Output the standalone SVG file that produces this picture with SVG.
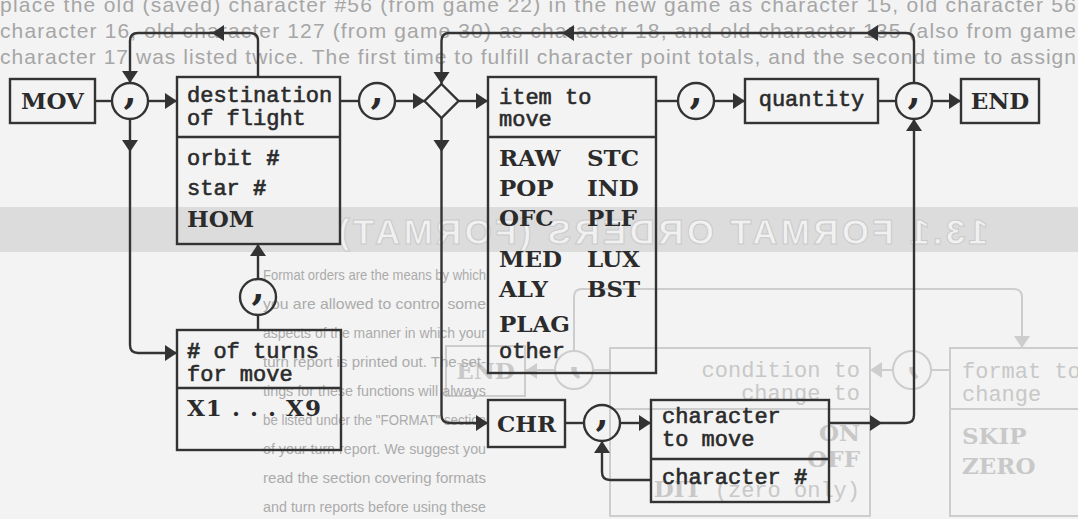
<svg xmlns="http://www.w3.org/2000/svg" xmlns:xlink="http://www.w3.org/1999/xlink" width="1078" height="519" viewBox="0 0 1078 519">
<defs>
<style>
.ln{fill:none;stroke:#333;stroke-width:2.4;stroke-linejoin:round}
.bx{fill:none;stroke:#333;stroke-width:2.4}
.t{font-family:"Liberation Mono",monospace;font-size:22px;fill:#2b2b2b;stroke:#2b2b2b;stroke-width:0.6}
.b{font-family:"DejaVu Serif",serif;font-weight:bold;font-size:23px;fill:#2b2b2b}
.cm{font-family:"DejaVu Serif",serif;font-weight:bold;font-size:38px;fill:#2b2b2b;text-anchor:middle}
.ah{fill:#333}
.fl{fill:none;stroke:#cdcdcd;stroke-width:2}
.ft{font-family:"Liberation Mono",monospace;font-size:22px;fill:#c8c8c8}
.fb{font-family:"DejaVu Serif",serif;font-weight:bold;font-size:23px;fill:#c8c8c8}
.fc{font-family:"DejaVu Serif",serif;font-weight:bold;font-size:38px;fill:#c8c8c8;text-anchor:middle}
.fah{fill:#cdcdcd}
.pt{font-family:"Liberation Sans",Arial,sans-serif;font-size:21px;fill:#a6a6a6}
.pp{font-family:"Liberation Sans",Arial,sans-serif;font-size:15px;fill:#ababab}
</style>
<path id="ah" d="M0,0 L-12,-8 L-12,8 Z"/>
</defs>
<rect x="0" y="0" width="1078" height="519" fill="#f3f3f3"/>

<g id="bleed">
<text class="pt" x="0" y="12" textLength="1076" lengthAdjust="spacing">place the old (saved) character #56 (from game 22) in the new game as character 15, old character 56</text>
<text class="pt" x="0" y="38" textLength="1076" lengthAdjust="spacing">character 16, old character 127 (from game 30) as character 18, and old character 135 (also from game</text>
<text class="pt" x="0" y="64" textLength="1076" lengthAdjust="spacing">character 17 was listed twice. The first time to fulfill character point totals, and the second time to assign</text>
<rect x="0" y="207" width="1078" height="45" fill="#dcdcdc"/>
<g transform="matrix(-1 0 0 1 1078 0)">
<text x="90" y="244" textLength="650" lengthAdjust="spacing" font-family="Liberation Sans, Arial, sans-serif" font-weight="bold" font-size="35" fill="#f1f1f1" stroke="#cacaca" stroke-width="1">13.1 FORMAT ORDERS (FORMAT)</text>
<rect class="fl" x="-12" y="348" width="140" height="168"/>
<path class="fl" d="M-12,409 H128"/>
<rect class="fl" x="208" y="348" width="260" height="168"/>
<path class="fl" d="M208,409 H468"/>
<rect class="fl" x="553" y="346" width="79" height="50"/>
<circle class="fl" cx="166" cy="370" r="19"/>
<circle class="fl" cx="504" cy="370" r="19"/>
<path class="fl" d="M128,370 H147 M185,370 H208 M468,370 H485 M523,370 H553 M504,351 V297 Q504,289 496,289 H64 Q56,289 56,297 V348"/>
<use href="#ah" class="fah" transform="translate(208,370)"/>
<use href="#ah" class="fah" transform="translate(553,371)"/>
<use href="#ah" class="fah" transform="translate(56,348) rotate(90)"/>
<text class="fc" x="166" y="373">,</text>
<text class="fc" x="504" y="373">,</text>
</g>
<text class="ft" x="962" y="378">format to</text>
<text class="ft" x="962" y="401">change</text>
<text class="fb" x="962" y="444">SKIP</text>
<text class="fb" x="962" y="474">ZERO</text>
<text class="ft" x="860" y="377" text-anchor="end">condition to</text>
<text class="ft" x="860" y="400" text-anchor="end">change to</text>
<text class="fb" x="860" y="441" text-anchor="end">ON</text>
<text class="fb" x="860" y="467" text-anchor="end">OFF</text>
<text class="fb" x="860" y="497" text-anchor="end">DIT<tspan class="ft" font-weight="normal"> (zero only)</tspan></text>
<text class="fb" x="485.5" y="379" text-anchor="middle">END</text>
<text class="pp" x="263" y="280" textLength="223" lengthAdjust="spacingAndGlyphs">Format orders are the means by which</text>
<text class="pp" x="263" y="309" textLength="223" lengthAdjust="spacingAndGlyphs">you are allowed to control some</text>
<text class="pp" x="263" y="338" textLength="223" lengthAdjust="spacingAndGlyphs">aspects of the manner in which your</text>
<text class="pp" x="263" y="367" textLength="223" lengthAdjust="spacingAndGlyphs">turn report is printed out. The set-</text>
<text class="pp" x="263" y="396" textLength="223" lengthAdjust="spacingAndGlyphs">tings for these functions will always</text>
<text class="pp" x="263" y="425" textLength="223" lengthAdjust="spacingAndGlyphs">be listed under the "FORMAT" section</text>
<text class="pp" x="263" y="454" textLength="223" lengthAdjust="spacingAndGlyphs">of your turn report. We suggest you</text>
<text class="pp" x="263" y="483" textLength="223" lengthAdjust="spacingAndGlyphs">read the section covering formats</text>
<text class="pp" x="263" y="512" textLength="223" lengthAdjust="spacingAndGlyphs">and turn reports before using these</text>
</g>

<g id="connectors">
<path class="ln" d="M95,101 H112"/>
<path class="ln" d="M148,101 H177"/>
<path class="ln" d="M340,101 H359"/>
<path class="ln" d="M395,101 H424.5"/>
<path class="ln" d="M458.5,101 H488"/>
<path class="ln" d="M656,101 H678"/>
<path class="ln" d="M714,101 H745"/>
<path class="ln" d="M878,101 H896"/>
<path class="ln" d="M932,101 H961"/>
<path class="ln" d="M258,77 V41 Q258,33 250,33 H138 Q130,33 130,41 V83"/>
<path class="ln" d="M914,83 V41 Q914,33 906,33 H449.5 Q441.5,33 441.5,41 V84"/>
<path class="ln" d="M130,119 V345 Q130,353 138,353 H177"/>
<path class="ln" d="M258,330 V315 M258,279 V244"/>
<path class="ln" d="M441.5,118 V415 Q441.5,423 449.5,423 H488"/>
<path class="ln" d="M565,423 H584"/>
<path class="ln" d="M620,423 H651"/>
<path class="ln" d="M651,480 H610 Q602,480 602,472 V441"/>
<path class="ln" d="M829,423 H906 Q914,423 914,415 V119"/>
<use href="#ah" class="ah" transform="translate(177,101)"/>
<use href="#ah" class="ah" transform="translate(425,101)"/>
<use href="#ah" class="ah" transform="translate(488,101)"/>
<use href="#ah" class="ah" transform="translate(745,101)"/>
<use href="#ah" class="ah" transform="translate(961,101)"/>
<use href="#ah" class="ah" transform="translate(177,353)"/>
<use href="#ah" class="ah" transform="translate(488,423)"/>
<use href="#ah" class="ah" transform="translate(651,423)"/>
<use href="#ah" class="ah" transform="translate(882,423)"/>
<use href="#ah" class="ah" transform="translate(130,83) rotate(90)"/>
<use href="#ah" class="ah" transform="translate(441.5,84) rotate(90)"/>
<use href="#ah" class="ah" transform="translate(130,152) rotate(90)"/>
<use href="#ah" class="ah" transform="translate(441.5,152) rotate(90)"/>
<use href="#ah" class="ah" transform="translate(212,33) rotate(180)"/>
<use href="#ah" class="ah" transform="translate(562,33) rotate(180)"/>
<use href="#ah" class="ah" transform="translate(866,33) rotate(180)"/>
<use href="#ah" class="ah" transform="translate(258,244) rotate(-90)"/>
<use href="#ah" class="ah" transform="translate(602,441) rotate(-90)"/>
<use href="#ah" class="ah" transform="translate(914,119) rotate(-90)"/>
</g>

<g id="n-mov"><rect class="bx" x="10" y="79" width="85" height="44"/><text class="b" x="52.5" y="109" text-anchor="middle">MOV</text></g>
<g id="n-c1"><circle class="bx" cx="130" cy="101" r="18"/><text class="cm" x="130" y="104">,</text></g>
<g id="n-dest"><rect class="bx" x="177" y="77" width="163" height="167"/><path class="bx" d="M177,137 H340"/>
<text class="t" x="187" y="102">destination</text><text class="t" x="187" y="125">of flight</text>
<text class="t" x="187" y="165">orbit <tspan font-weight="bold">#</tspan></text>
<text class="t" x="187" y="195">star <tspan font-weight="bold">#</tspan></text>
<text class="b" x="187" y="227">HOM</text></g>
<g id="n-c2"><circle class="bx" cx="377" cy="101" r="18"/><text class="cm" x="377" y="104">,</text></g>
<g id="n-dia"><polygon class="bx" points="441.5,84 458.5,101 441.5,118 424.5,101"/></g>
<g id="n-item"><rect class="bx" x="488" y="77" width="168" height="296"/><path class="bx" d="M488,137 H656"/>
<text class="t" x="499" y="104">item to</text><text class="t" x="499" y="126">move</text>
<text class="b" x="499" y="166">RAW</text><text class="b" x="587" y="166">STC</text>
<text class="b" x="499" y="196">POP</text><text class="b" x="587" y="196">IND</text>
<text class="b" x="499" y="226">OFC</text><text class="b" x="587" y="226">PLF</text>
<text class="b" x="499" y="267">MED</text><text class="b" x="587" y="267">LUX</text>
<text class="b" x="499" y="297">ALY</text><text class="b" x="587" y="297">BST</text>
<text class="b" x="499" y="332">PLAG</text>
<text class="t" x="499" y="358">other</text></g>
<g id="n-c3"><circle class="bx" cx="696" cy="101" r="18"/><text class="cm" x="696" y="104">,</text></g>
<g id="n-qty"><rect class="bx" x="745" y="79" width="133" height="44"/><text class="t" x="811.5" y="106" text-anchor="middle">quantity</text></g>
<g id="n-c4"><circle class="bx" cx="914" cy="101" r="18"/><text class="cm" x="914" y="104">,</text></g>
<g id="n-end"><rect class="bx" x="961" y="79" width="78" height="44"/><text class="b" x="1000" y="109" text-anchor="middle">END</text></g>
<g id="n-turns"><rect class="bx" x="177" y="330" width="164" height="120" fill="#f3f3f3"/><path class="bx" d="M177,388 H341"/>
<text class="t" x="187" y="358"><tspan font-weight="bold">#</tspan> of turns</text><text class="t" x="187" y="381">for move</text>
<text class="b" x="187" y="416" textLength="134" lengthAdjust="spacing">X1 . . . X9</text></g>
<g id="n-c5"><circle class="bx" cx="258" cy="297" r="18" fill="#f3f3f3"/><text class="cm" x="258" y="300">,</text></g>
<g id="n-chr"><rect class="bx" x="488" y="400" width="77" height="47"/><text class="b" x="526.5" y="432" text-anchor="middle">CHR</text></g>
<g id="n-c6"><circle class="bx" cx="602" cy="423" r="18"/><text class="cm" x="602" y="426">,</text></g>
<g id="n-char"><rect class="bx" x="651" y="400" width="178" height="102"/><path class="bx" d="M651,459 H829"/>
<text class="t" x="662" y="423">character</text><text class="t" x="662" y="446">to move</text>
<text class="t" x="662" y="484">character <tspan font-weight="bold">#</tspan></text></g>
</svg>
